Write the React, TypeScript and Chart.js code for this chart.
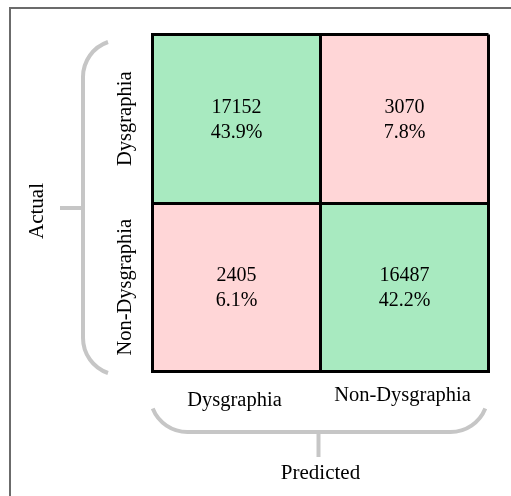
import React, { useEffect, useRef } from 'react';
import { Chart, registerables } from 'chart.js';

Chart.register(...registerables);

const predictedLabels = ['Dysgraphia', 'Non-Dysgraphia'];
const actualLabels = ['Dysgraphia', 'Non-Dysgraphia'];
const actualDysgraphiaCounts = [17152, 3070];
const actualNonDysgraphiaCounts = [2405, 16487];
const actualDysgraphiaPercents = ['43.9%', '7.8%'];
const actualNonDysgraphiaPercents = ['6.1%', '42.2%'];
const xAxisTitle = 'Predicted';
const yAxisTitle = 'Actual';

const GREEN = 'rgb(168,234,192)';
const PINK = 'rgb(255,214,215)';
const FONT = '"Liberation Serif", "Times New Roman", serif';

const overlayPlugin = {
  id: 'cmOverlay',
  afterDraw(chart: any) {
    const ctx = chart.ctx as CanvasRenderingContext2D;
    const { left: L, right: R, top: T, bottom: B } = chart.chartArea;
    const xs = chart.scales.x;
    const ys = chart.scales.y;
    ctx.save();

    // frame (top-left)
    ctx.fillStyle = '#6b6b6b';
    ctx.fillRect(9, 7, 2, chart.height - 7);
    ctx.fillRect(9, 7, chart.width - 9, 2);

    // cell texts
    ctx.fillStyle = '#000';
    ctx.font = `20px ${FONT}`;
    ctx.textAlign = 'center';
    ctx.textBaseline = 'alphabetic';
    const rows = [
      { counts: actualDysgraphiaCounts, pcts: actualDysgraphiaPercents },
      { counts: actualNonDysgraphiaCounts, pcts: actualNonDysgraphiaPercents },
    ];
    rows.forEach((row, di) => {
      const meta = chart.getDatasetMeta(di);
      meta.data.forEach((el: any, i: number) => {
        const yc = (el.y + el.base) / 2;
        ctx.fillText(String(row.counts[i]), el.x, yc - 5.5);
        ctx.fillText(row.pcts[i], el.x, yc + 19.5);
      });
    });

    // brackets
    ctx.strokeStyle = '#c6c6c6';
    ctx.lineWidth = 4;
    ctx.lineCap = 'butt';
    // bottom bracket
    const r = 37.5;
    const hy = B + 60.5;
    const cy = hy - r;
    const lx = L;
    const rx = R - 3;
    const endA = Math.asin((B + 37 - cy) / r);
    ctx.beginPath();
    ctx.arc(lx + 35, cy, r, Math.PI - endA, Math.PI / 2, true);
    ctx.lineTo(rx - 35, hy);
    ctx.arc(rx - 35, cy, r, Math.PI / 2, endA, true);
    ctx.stroke();
    const midX = (L + R) / 2 - 2;
    ctx.beginPath();
    ctx.moveTo(midX, hy);
    ctx.lineTo(midX, hy + 25);
    ctx.stroke();

    // left bracket
    const vx = L - 69.5;
    const r2 = 37;
    const cx2 = vx + r2;
    const topCy = T + 42.5;
    const botCy = B - 33.5;
    const ta = Math.atan2(T + 7.5 - topCy, -12);
    const ba = Math.atan2(B + 1.5 - botCy, -12);
    ctx.beginPath();
    ctx.arc(cx2, topCy, r2, ta, -Math.PI, true);
    ctx.lineTo(vx, botCy);
    ctx.arc(cx2, botCy, r2, Math.PI, ba, true);
    ctx.stroke();
    const stemY = (T + B) / 2 + 5;
    ctx.beginPath();
    ctx.moveTo(vx, stemY);
    ctx.lineTo(vx - 23, stemY);
    ctx.stroke();

    // x tick labels
    ctx.fillStyle = '#000';
    ctx.font = `20.5px ${FONT}`;
    ctx.textAlign = 'center';
    ctx.textBaseline = 'alphabetic';
    predictedLabels.forEach((lab, i) => {
      const x = xs.getPixelForValue(i);
      ctx.fillText(lab, x - 2, B + (i === 0 ? 34.5 : 29.5));
    });
    // x title
    ctx.font = `21px ${FONT}`;
    ctx.fillText(xAxisTitle, (L + R) / 2, B + 107.5);

    // y tick labels (rotated)
    ctx.font = `20.5px ${FONT}`;
    actualLabels.forEach((lab, i) => {
      const y = ys.getPixelForValue(1.5 - i);
      ctx.save();
      ctx.translate(L - 21.5, y);
      ctx.rotate(-Math.PI / 2);
      ctx.fillText(lab, 0, 0);
      ctx.restore();
    });
    // y title
    ctx.font = `21px ${FONT}`;
    ctx.save();
    ctx.translate(L - 109.5, (T + B) / 2 + 8);
    ctx.rotate(-Math.PI / 2);
    ctx.fillText(yAxisTitle, 0, 0);
    ctx.restore();

    ctx.restore();
  },
};

export default function App() {
  const ref = useRef<HTMLCanvasElement>(null);
  useEffect(() => {
    if (!ref.current) return;
    const rowSpan = (rowIndex: number) => {
      const base = actualLabels.length - 1 - rowIndex;
      return predictedLabels.map(() => [base, base + 1]);
    };
    const chart = new Chart(ref.current, {
      type: 'bar',
      data: {
        labels: predictedLabels,
        datasets: [
          {
            label: actualLabels[0],
            data: rowSpan(0) as any,
            backgroundColor: [GREEN, PINK],
            borderWidth: 0,
            grouped: false,
            barPercentage: 1,
            categoryPercentage: 1,
          } as any,
          {
            label: actualLabels[1],
            data: rowSpan(1) as any,
            backgroundColor: [PINK, GREEN],
            borderWidth: 0,
            grouped: false,
            barPercentage: 1,
            categoryPercentage: 1,
          } as any,
        ],
      },
      options: {
        responsive: false,
        animation: false,
        events: [],
        layout: { padding: { left: 152.5, top: 34.5, right: 22.5, bottom: 124.5 } },
        plugins: { legend: { display: false }, tooltip: { enabled: false } },
        scales: {
          x: {
            type: 'category',
            offset: true,
            grid: { offset: true, color: '#000', lineWidth: 3, drawTicks: false, z: 1 },
            border: { display: true, color: '#000', width: 3, z: 1 },
            ticks: { display: false },
          },
          y: {
            type: 'linear',
            min: 0,
            max: 2,
            grid: { color: '#000', lineWidth: 3, drawTicks: false, z: 1 },
            border: { display: true, color: '#000', width: 3, z: 1 },
            ticks: { display: false, stepSize: 1 },
          },
        },
      } as any,
      plugins: [overlayPlugin],
    });
    return () => chart.destroy();
  }, []);
  return (
    <div style={{ position: 'fixed', left: 0, top: 0, width: 511, height: 496, background: '#fff' }}>
      <canvas ref={ref} width={511} height={496} style={{ display: 'block' }} />
    </div>
  );
}
